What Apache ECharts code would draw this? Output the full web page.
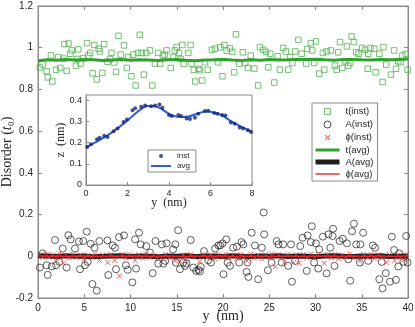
<!DOCTYPE html>
<html><head><meta charset="utf-8">
<script src="https://cdn.jsdelivr.net/npm/echarts@6.0.0/dist/echarts.min.js"></script>
<style>html,body{margin:0;padding:0;background:#fff}#c{width:415px;height:327px}</style>
</head><body><div id="c"></div>
<script>
// ---- main chart data ----
const tInstX = [0.2,0.5,0.94,1.05,1.4,1.55,1.95,2.2,2.4,2.75,2.85,3.1,3.3,3.5,3.65,4.1,4.25,4.35,4.6,4.9,5.3,5.45,5.65,5.9,6.1,6.35,6.55,6.7,6.95,7.15,7.5,7.8,7.95,8.25,8.45,8.7,8.95,9.3,9.6,9.75,10.1,10.3,10.55,10.8,11.0,11.2,11.45,11.7,12.1,12.35,12.65,13.0,13.2,13.5,13.7,13.9,14.35,14.6,14.8,15.0,15.25,15.4,15.6,15.75,16.25,16.5,16.6,16.85,17.0,17.35,17.5,17.75,18.05,18.35,18.8,19.15,19.45,19.7,19.95,20.15,20.4,20.75,21.0,21.2,21.4,21.75,22.15,22.4,22.7,23.0,23.4,23.8,24.0,24.35,24.65,24.9,25.1,25.55,25.9,26.15,26.5,26.8,27.05,27.25,27.5,27.8,28.15,28.5,29.0,29.1,29.5,29.65,29.85,30.05,30.4,30.8,30.95,31.2,31.65,32.1,32.3,32.45,32.65,32.9,33.2,33.4,33.55,33.75,33.9,34.15,34.4,34.65,35.05,35.35,35.65,35.7,35.95,36.35,36.5,36.9,37.25,37.35,37.65,38.15,38.5,38.7,38.95,39.2,39.4,39.75,39.95];
const tInstY = [0.905,0.92,0.887,0.858,0.963,0.838,0.894,0.955,0.903,0.948,1.017,0.889,1.02,0.971,0.987,0.914,0.946,0.992,0.924,0.949,1.022,0.962,0.975,0.878,1.013,0.848,0.995,0.982,0.879,1.017,0.933,0.946,0.975,0.929,0.884,1.057,0.967,1.011,0.903,0.955,0.863,0.967,0.819,0.975,1.062,0.975,0.871,0.975,0.987,0.819,0.924,0.975,0.924,0.963,0.967,0.987,0.903,0.955,0.987,1.003,0.975,0.946,1.013,0.922,0.975,1.013,0.922,0.894,0.838,0.899,0.892,0.843,0.93,0.894,0.99,0.995,0.93,1.002,0.863,1.013,0.986,0.997,0.98,0.882,1.064,0.924,0.978,0.927,0.903,0.962,0.9,0.819,1.003,0.99,0.98,0.906,0.971,0.833,0.959,0.895,0.999,0.982,0.895,0.955,0.927,0.982,1.038,0.971,0.924,0.994,1.022,0.987,0.927,1.03,0.876,0.975,0.895,0.982,0.987,0.914,0.895,0.978,1.027,0.903,0.935,1.006,0.914,0.927,1.054,1.027,0.978,0.971,0.999,0.99,0.899,0.971,0.999,0.995,0.882,0.971,0.836,1.003,0.919,0.871,0.987,0.899,0.935,0.93,0.962,0.97,0.895];

const aInstX = [0.2,0.5,0.94,1.05,1.48,1.84,1.95,2.3,2.67,3.1,3.28,3.53,4.0,4.43,4.54,4.9,5.08,5.27,5.37,5.7,5.88,6.1,6.35,6.63,7.5,7.6,8.07,8.32,8.43,8.76,9.3,9.5,9.7,10.2,10.5,10.6,10.92,11.1,11.7,12.1,12.4,12.7,13.0,13.4,13.55,13.75,13.9,14.6,14.85,14.9,15.15,15.35,15.7,15.9,16.05,16.5,16.8,17.1,17.35,17.5,17.6,17.95,18.4,18.7,19.15,19.5,19.7,19.95,20.05,20.35,20.5,20.75,21.1,21.5,21.75,22.0,22.2,22.55,22.65,22.75,23.1,23.45,23.8,24.2,24.4,24.45,24.85,25.25,25.8,26.0,26.35,26.5,27.05,27.35,27.45,27.8,28.35,28.6,29.05,29.15,29.5,29.6,29.85,30.05,30.3,30.4,30.8,31.2,31.4,31.6,31.85,31.9,32.05,32.6,32.95,33.4,33.55,33.75,33.95,34.15,34.4,34.8,34.85,35.15,35.7,36.2,36.45,36.9,37.15,37.25,37.6,38.05,38.25,38.5,38.7,38.95,39.05,39.5,39.8,39.95];
const aInstY = [-0.054,0.014,-0.043,-0.089,-0.049,0.078,-0.043,-0.027,0.037,-0.054,0.101,0.081,0.037,0.071,-0.062,0.073,-0.043,0.118,-0.027,0.06,-0.133,0.041,-0.165,0.073,0.076,-0.09,0.052,0.041,-0.062,0.092,0.1,-0.043,-0.065,-0.125,0.081,-0.059,0.113,0.057,0.049,0.018,-0.081,0.073,-0.035,0.057,-0.035,-0.022,0.062,0.033,0.057,-0.03,0.125,-0.062,-0.03,-0.046,-0.035,0.078,-0.054,-0.07,-0.065,-0.073,-0.051,0.025,-0.019,-0.03,0.037,0.052,0.052,0.062,-0.086,0.081,-0.03,-0.046,0.041,0.046,-0.03,0.068,0.057,-0.075,-0.03,-0.099,0.113,0.052,-0.11,0.041,0.21,0.105,-0.067,-0.03,0.073,0.057,-0.03,0.057,-0.046,0.057,-0.122,-0.022,0.049,0.089,-0.07,0.1,0.068,0.144,-0.03,0.062,-0.059,0.033,0.094,-0.082,0.105,0.041,0.097,0.132,-0.046,0.073,0.084,0.062,-0.014,-0.117,0.12,0.156,0.057,-0.03,0.057,0.113,-0.022,0.052,0.041,-0.11,-0.027,-0.154,-0.081,-0.122,0.094,0.03,-0.113,-0.049,0.014,-0.027,0.097,-0.03];

const phiInstX = [0.2,0.5,0.9,1.2,1.6,2.0,2.3,2.75,3.0,3.4,3.8,4.2,4.6,5.0,5.4,5.8,6.2,6.63,7.0,7.55,7.9,8.3,8.8,9.1,9.5,9.9,10.2,10.5,10.9,11.3,11.7,12.1,12.5,12.9,13.4,13.8,14.2,14.85,15.3,15.7,16.1,16.5,16.9,17.5,17.9,18.3,18.7,19.1,19.5,19.9,20.3,20.7,21.1,21.5,21.9,22.3,22.6,23.0,23.4,23.8,24.2,24.6,25.0,25.3,25.65,26.0,26.6,27.0,27.6,27.9,28.25,28.7,29.1,29.5,29.9,30.3,30.95,31.3,31.7,32.1,32.5,32.9,33.3,33.7,34.1,34.8,35.2,35.6,36.0,36.4,36.8,37.2,37.65,38.0,38.55,38.9,39.2,39.55,39.9];
const phiInstY = [0.008,-0.006,0.01,-0.004,0.006,-0.01,0.012,-0.033,0.004,-0.008,0.01,-0.005,0.007,-0.012,0.005,-0.003,0.011,-0.02,0.006,-0.03,0.009,-0.02,-0.094,0.008,-0.007,0.01,-0.004,-0.02,0.007,-0.009,0.011,-0.006,0.005,-0.011,-0.005,0.009,-0.008,-0.022,-0.022,0.006,-0.01,0.008,-0.004,-0.025,0.01,-0.007,0.006,-0.012,0.009,-0.005,0.011,-0.008,0.005,-0.01,0.008,-0.004,-0.022,0.01,-0.009,0.006,-0.012,0.009,-0.006,0.011,-0.05,0.007,-0.03,0.01,-0.03,0.006,-0.033,0.009,-0.008,0.011,-0.006,0.008,-0.033,0.01,-0.007,0.009,-0.011,0.006,-0.005,0.012,-0.009,-0.022,0.008,-0.006,0.01,-0.01,0.007,-0.005,-0.03,0.009,-0.022,0.006,-0.008,-0.019,0.007];

const avgX = [0,1,2,3,4,5,6,7,8,9,10,11,12,13,14,15,16,17,18,19,20,21,22,23,24,25,26,27,28,29,30,31,32,33,34,35,36,37,38,39,40];
const tAvgY = [0.938,0.942,0.940,0.943,0.941,0.944,0.942,0.939,0.941,0.943,0.940,0.942,0.941,0.939,0.942,0.943,0.940,0.938,0.941,0.942,0.944,0.941,0.939,0.942,0.940,0.943,0.941,0.942,0.944,0.943,0.945,0.942,0.940,0.943,0.944,0.942,0.941,0.943,0.942,0.944,0.946];
const aAvgY = [0.002,0.001,-0.001,0.002,0.000,0.001,-0.002,0.000,0.001,0.002,-0.001,0.001,0.000,-0.002,0.001,0.000,0.002,-0.001,0.000,0.001,-0.001,0.002,0.000,-0.001,0.001,0.000,0.002,-0.001,0.001,0.000,-0.002,0.001,0.002,0.000,-0.001,0.001,0.000,0.002,-0.001,0.000,0.001];
const phiAvgY = [0.001,0.000,0.001,-0.001,0.000,0.001,0.000,-0.001,0.001,0.000,0.000,0.001,-0.001,0.000,0.001,0.000,-0.001,0.000,0.001,0.000,0.001,-0.001,0.000,0.000,0.001,-0.001,0.000,0.001,0.000,-0.001,0.000,0.001,0.000,-0.001,0.001,0.000,0.000,0.001,-0.001,0.000,0.001];

// ---- inset data ----
const insX = [0.06,0.24,0.53,0.66,0.88,1.04,1.33,1.52,1.81,1.97,2.24,2.37,2.66,2.85,3.14,3.33,3.54,3.68,4.0,4.13,4.45,4.58,4.85,5.01,5.25,5.41,5.73,5.89,6.18,6.34,6.56,6.72,6.98,7.17,7.41,7.57,7.8,7.95];
const insY = [0.18,0.193,0.216,0.223,0.232,0.227,0.254,0.267,0.298,0.309,0.353,0.362,0.37,0.376,0.372,0.376,0.38,0.365,0.33,0.326,0.33,0.326,0.314,0.312,0.317,0.336,0.35,0.351,0.34,0.336,0.33,0.328,0.295,0.289,0.271,0.267,0.258,0.25];
const insAvgX = [0,0.5,1,1.5,2,2.5,2.8,3.0,3.3,3.6,3.9,4.2,4.6,5.0,5.4,5.8,6.2,6.6,7.0,7.5,8.0];
const insAvgY = [0.176,0.204,0.232,0.266,0.305,0.347,0.368,0.373,0.372,0.362,0.342,0.327,0.321,0.325,0.338,0.347,0.341,0.326,0.300,0.274,0.252];

const mainXTicks = {min:0, max:40, interval:5};
const mainYTicks = {min:-0.2, max:1.2, interval:0.2};
const insXTicks = {min:0, max:8, interval:2};
const insYTicks = {min:0, max:0.425, interval:0.1};

const zip = (xs, ys) => xs.map((x, i) => [x, ys[i]]);

const GREEN = '#2ea12a', GREEN_M = '#4fb24c', BLACK = '#1e1e1e', RED = '#e8262b', RED_M = '#ec3b3b';
const NAVY = '#15257a', BLUE = '#2f5fd8';
const AX = '#8a8a8a', TXT = '#262626';
const SANS = 'Liberation Sans', SERIF = 'Liberation Serif';

const B = 'M0,0L0,0M26,12L26,12';
const b2 = 'M0,0L0,0M22,10L22,10';

const chart = echarts.init(document.getElementById('c'), null, {renderer:'canvas'});
const axisCommon = (extra) => Object.assign({
  axisLine:{show:true, onZero:false, lineStyle:{color:AX, width:1}},
  axisTick:{show:true, inside:true, length:4, lineStyle:{color:AX}},
  splitLine:{show:false},
  nameMoveOverlap:false,
  axisLabel:{fontFamily:SANS, fontSize:10, color:TXT}
}, extra);

chart.setOption({
  animation:false,
  backgroundColor:'#fff',
  grid:[
    {left:38, right:7, top:6, bottom:29, show:true, borderColor:AX, borderWidth:1, backgroundColor:'transparent', containLabel:false, outerBoundsMode:'none'},
    {left:86, right:163, top:95, bottom:142, show:true, borderColor:AX, borderWidth:1, backgroundColor:'#fff', z:10, containLabel:false, outerBoundsMode:'none'}
  ],
  xAxis:[
    axisCommon(Object.assign({type:'value', gridIndex:0, position:'bottom', name:'y  (nm)', nameLocation:'middle', nameGap:11,
      nameTextStyle:{fontFamily:SERIF, fontSize:14, color:TXT}}, mainXTicks, {axisLabel:{fontFamily:SANS, fontSize:10, color:TXT, margin:5}})),
    axisCommon(Object.assign({type:'value', gridIndex:0, position:'top'}, mainXTicks, {axisLabel:{show:false}})),
    axisCommon(Object.assign({type:'value', gridIndex:1, position:'bottom', z:12, name:'y  (nm)', nameLocation:'middle', nameGap:12,
      nameTextStyle:{fontFamily:SERIF, fontSize:12, color:TXT}}, insXTicks, {axisTick:{show:true, inside:true, length:3, lineStyle:{color:AX}}, axisLabel:{fontFamily:SANS, fontSize:9, color:TXT, margin:4}}))
  ],
  yAxis:[
    axisCommon(Object.assign({type:'value', gridIndex:0, position:'left', name:'{r|Disorder }{r|(}{i|t}{r|₀)}', nameLocation:'middle', nameGap:24, nameRotate:90,
      nameTextStyle:{fontFamily:SERIF, fontSize:14, color:TXT, rich:{r:{fontFamily:SERIF, fontSize:14, color:TXT}, i:{fontFamily:SERIF, fontStyle:'italic', fontSize:14, color:TXT}}}}, mainYTicks, {axisLabel:{fontFamily:SANS, fontSize:10, color:TXT, margin:5}})),
    axisCommon(Object.assign({type:'value', gridIndex:0, position:'right'}, mainYTicks, {axisLabel:{show:false}})),
    axisCommon(Object.assign({type:'value', gridIndex:1, position:'left', z:12, name:'z  (nm)', nameLocation:'middle', nameGap:19, nameRotate:90,
      nameTextStyle:{fontFamily:SERIF, fontSize:12, color:TXT}}, insYTicks, {axisTick:{show:true, inside:true, length:3, lineStyle:{color:AX}}, axisLabel:{fontFamily:SANS, fontSize:9, color:TXT, margin:4, showMaxLabel:false}}))
  ],
  legend:[
    {
      orient:'vertical', left:312, top:103, itemWidth:26, itemHeight:12, itemGap:0,
      padding:[2,4,1,2], borderColor:AX, borderWidth:1, backgroundColor:'#fff', selectedMode:false,
      textStyle:{fontFamily:SANS, fontSize:9.5, color:TXT, width:30},
      data:[
        {name:'t(inst)', icon:'path://'+B+'M10,3L16,3L16,9L10,9Z', itemStyle:{color:'transparent', borderColor:GREEN_M, borderWidth:1}},
        {name:'A(inst)', icon:'path://'+B+'M16.5,6A3.5,3.5,0,1,1,9.5,6A3.5,3.5,0,1,1,16.5,6Z', itemStyle:{color:'transparent', borderColor:BLACK, borderWidth:1}},
        {name:'ϕ(inst)', icon:'path://'+B+'M10.5,3.5L15.5,8.5M15.5,3.5L10.5,8.5', itemStyle:{color:'transparent', borderColor:RED_M, borderWidth:1}},
        {name:'t(avg)', icon:'path://'+B+'M1,4.5L25,4.5L25,7.5L1,7.5Z', itemStyle:{color:GREEN, borderWidth:0}},
        {name:'A(avg)', icon:'path://'+B+'M1,3.5L25,3.5L25,8.5L1,8.5Z', itemStyle:{color:BLACK, borderWidth:0}},
        {name:'ϕ(avg)', icon:'path://'+B+'M1,5.3L25,5.3L25,6.7L1,6.7Z', itemStyle:{color:RED, borderWidth:0}}
      ]
    },
    {
      orient:'vertical', left:148, top:150, itemWidth:22, itemHeight:10, itemGap:0, z:14,
      padding:[1,6,1,2], borderColor:AX, borderWidth:1, backgroundColor:'#fff', selectedMode:false,
      textStyle:{fontFamily:SANS, fontSize:8, color:TXT},
      data:[
        {name:'inst', icon:'path://'+b2+'M13,5A2,2,0,1,1,9,5A2,2,0,1,1,13,5Z', itemStyle:{color:NAVY, borderWidth:0}},
        {name:'avg', icon:'path://'+b2+'M1,4L21,4L21,6L1,6Z', itemStyle:{color:BLUE, borderWidth:0}}
      ]
    }
  ],
  series:[
    {name:'t(inst)', type:'scatter', xAxisIndex:0, yAxisIndex:0, data:zip(tInstX, tInstY), symbol:'rect', symbolSize:5.5,
      itemStyle:{color:'transparent', borderColor:GREEN_M, borderWidth:1}, z:2},
    {name:'A(inst)', type:'scatter', xAxisIndex:0, yAxisIndex:0, data:zip(aInstX, aInstY), symbol:'circle', symbolSize:7,
      itemStyle:{color:'transparent', borderColor:BLACK, borderWidth:0.9}, z:2},
    {name:'t(avg)', type:'line', xAxisIndex:0, yAxisIndex:0, data:zip(avgX, tAvgY), showSymbol:false, symbol:'none',
      lineStyle:{color:GREEN, width:3}, itemStyle:{color:GREEN}, z:3},
    {name:'A(avg)', type:'line', xAxisIndex:0, yAxisIndex:0, data:zip(avgX, aAvgY), showSymbol:false, symbol:'none',
      lineStyle:{color:BLACK, width:5}, itemStyle:{color:BLACK}, z:3},
    {name:'ϕ(inst)', type:'scatter', xAxisIndex:0, yAxisIndex:0, data:zip(phiInstX, phiInstY), symbol:'path://M0,0L10,10M10,0L0,10', symbolSize:5,
      itemStyle:{color:'transparent', borderColor:RED_M, borderWidth:1}, z:4},
    {name:'ϕ(avg)', type:'line', xAxisIndex:0, yAxisIndex:0, data:zip(avgX, phiAvgY), showSymbol:false, symbol:'none',
      lineStyle:{color:RED, width:1.5}, itemStyle:{color:RED}, z:5},
    {name:'inst', type:'scatter', xAxisIndex:2, yAxisIndex:2, data:zip(insX, insY), symbol:'circle', symbolSize:4,
      itemStyle:{color:NAVY}, z:13},
    {name:'avg', type:'line', xAxisIndex:2, yAxisIndex:2, data:zip(insAvgX, insAvgY), smooth:0.4, showSymbol:false, symbol:'none',
      lineStyle:{color:BLUE, width:2}, itemStyle:{color:BLUE}, z:12}
  ]
});
</script>
</body></html>
